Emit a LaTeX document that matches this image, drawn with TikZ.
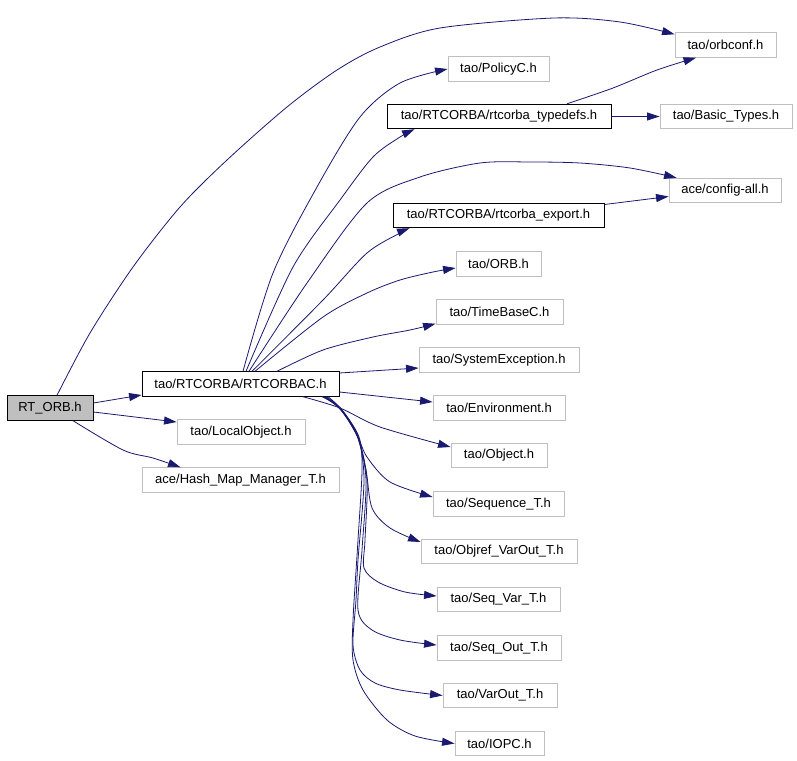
\documentclass[tikz,border=0pt]{standalone}
\usepackage{fontspec}
\setmainfont{Liberation Sans}
\usetikzlibrary{arrows.meta}
\definecolor{edgeblue}{HTML}{191970}
\definecolor{boxgray}{HTML}{BFBFBF}
\tikzset{
  file/.style={draw=boxgray, line width=0.9pt, minimum height=24.5pt, inner sep=0pt, font=\fontsize{13}{15}\selectfont},
  mainfile/.style={file, draw=black},
  rootfile/.style={mainfile, fill=boxgray},
  dep/.style={draw=edgeblue, line width=0.8pt, -{Triangle[length=12.5pt, width=8pt]}},
}
\begin{document}
\begin{tikzpicture}[x=1pt, y=-1pt]
  \useasboundingbox (0,0) rectangle (797,760);

  \node[rootfile, minimum width=86pt] (rtorb) at (50,408) {RT\_ORB.h};
  \node[mainfile, minimum width=197pt] (rtcorbac) at (240.5,384) {tao/RTCORBA/RTCORBAC.h};
  \node[file, minimum width=128pt] (localobj) at (241,432) {tao/LocalObject.h};
  \node[file, minimum width=197pt] (hashmap) at (240.5,480) {ace/Hash\_Map\_Manager\_T.h};

  \node[file, minimum width=101pt] (orbconf) at (725.5,45) {tao/orbconf.h};
  \node[file, minimum width=101pt] (policyc) at (498.5,69) {tao/PolicyC.h};
  \node[mainfile, minimum width=224pt] (typedefs) at (499,116.5) {tao/RTCORBA/rtcorba\_typedefs.h};
  \node[file, minimum width=132pt] (basictypes) at (726,116.5) {tao/Basic\_Types.h};
  \node[file, minimum width=112pt] (configall) at (725,190.5) {ace/config-all.h};
  \node[mainfile, minimum width=211pt] (export) at (498.5,215.5) {tao/RTCORBA/rtcorba\_export.h};
  \node[file, minimum width=85pt] (orb) at (498.5,264) {tao/ORB.h};
  \node[file, minimum width=127pt] (timebase) at (499.5,312) {tao/TimeBaseC.h};
  \node[file, minimum width=160pt] (sysexc) at (499,360) {tao/SystemException.h};
  \node[file, minimum width=132pt] (environment) at (499,408) {tao/Environment.h};
  \node[file, minimum width=96pt] (object) at (499,455.5) {tao/Object.h};
  \node[file, minimum width=131pt] (sequence) at (498.5,504) {tao/Sequence\_T.h};
  \node[file, minimum width=156pt] (objref) at (499,551.5) {tao/Objref\_VarOut\_T.h};
  \node[file, minimum width=123pt] (seqvar) at (498.5,599.5) {tao/Seq\_Var\_T.h};
  \node[file, minimum width=124pt] (seqout) at (499,648) {tao/Seq\_Out\_T.h};
  \node[file, minimum width=114pt] (varout) at (500,695.5) {tao/VarOut\_T.h};
  \node[file, minimum width=89pt] (iopc) at (499.5,743.5) {tao/IOPC.h};

  % RT_ORB.h
  \draw[dep] ([yshift=5]rtorb.east) -- ([yshift=-11]rtcorbac.west);
  \draw[dep] ([yshift=-4]rtorb.east) -- ([yshift=10]localobj.west);
  \draw[dep] plot[smooth] coordinates {([xshift=23]rtorb.south) (123,450) (153,458) ([xshift=-60]hashmap.north)};
  \draw[dep] plot[smooth] coordinates {([xshift=7]rtorb.north) (90,333) (133,267) (180,207) (227,160) (287,107) (337,70) (380,47) (440,28) (554,18) (620,22) ([yshift=-2]orbconf.north west)};

  % RTCORBAC.h, upwards
  \draw[dep] plot[smooth] coordinates {([xshift=2.5]rtcorbac.north) (273,273) (317,187) (360,117) (400,83) (policyc.west)};
  \draw[dep] plot[smooth] coordinates {([xshift=5.5]rtcorbac.north) (293,267) (340,200) (373,157) (400,137) ([xshift=28]typedefs.south west)};
  \draw[dep] plot[smooth] coordinates {([xshift=8.5]rtcorbac.north) (307,283) (367,203) (420,177) (480,163) (530,162) (580,163) (630,168) ([xshift=8]configall.north west)};
  \draw[dep] plot[smooth] coordinates {([xshift=11.5]rtcorbac.north) (323,300) (367,253) (400,233) ([xshift=17]export.south west)};
  \draw[dep] plot[smooth] coordinates {([xshift=14.5]rtcorbac.north) (323,317) (367,293) (400,280) (433,272) ([yshift=-4]orb.west)};
  \draw[dep] plot[smooth] coordinates {([xshift=36.5]rtcorbac.north) (323,350) (373,337) (410,330) ([yshift=1]timebase.south west)};
  \draw[dep] ([yshift=11]rtcorbac.east) -- ([yshift=-8]sysexc.west);
  \draw[dep] ([yshift=-8]rtcorbac.east) -- ([yshift=6]environment.west);

  % RTCORBAC.h, downwards
  \draw[dep] plot[smooth] coordinates {([xshift=62.5]rtcorbac.south) (340,408) (380,427) ([yshift=8.5]object.west)};
  \draw[dep] plot[smooth] coordinates {([xshift=81.5]rtcorbac.south) (340,408) (357,435) (367,457) (390,482) ([yshift=7]sequence.west)};
  \draw[dep] plot[smooth] coordinates {([xshift=82.5]rtcorbac.south) (340,409) (357,436) (366,470) (372,508) (390,528) ([yshift=9.5]objref.west)};
  \draw[dep] plot[smooth] coordinates {([xshift=83.5]rtcorbac.south) (341,409) (358,437) (367,480) (365,540) (364,568) (378,582) (405,592) ([yshift=3.5]seqvar.west)};
  \draw[dep] plot[smooth] coordinates {([xshift=84.5]rtcorbac.south) (341,410) (358,437) (366,480) (362,550) (358,610) (372,630) (400,640) ([yshift=3]seqout.west)};
  \draw[dep] plot[smooth] coordinates {([xshift=85.5]rtcorbac.south) (342,410) (358,437) (364,480) (358,560) (356,600) (353,645) (360,670) (375,683) (400,690) (varout.west)};
  \draw[dep] plot[smooth] coordinates {([xshift=87.5]rtcorbac.south) (342,410) (359,437) (362,470) (358,540) (353,620) (353,660) (363,690) (387,720) (415,736) (iopc.west)};

  % second level
  \draw[dep] plot[smooth] coordinates {([xshift=68]typedefs.north) (613,88) (657,70) ([xshift=-29.5]orbconf.south)};
  \draw[dep] (typedefs.east) -- (basictypes.west);
  \draw[dep] ([yshift=11]export.east) -- ([yshift=-6]configall.west);
\end{tikzpicture}
\end{document}
